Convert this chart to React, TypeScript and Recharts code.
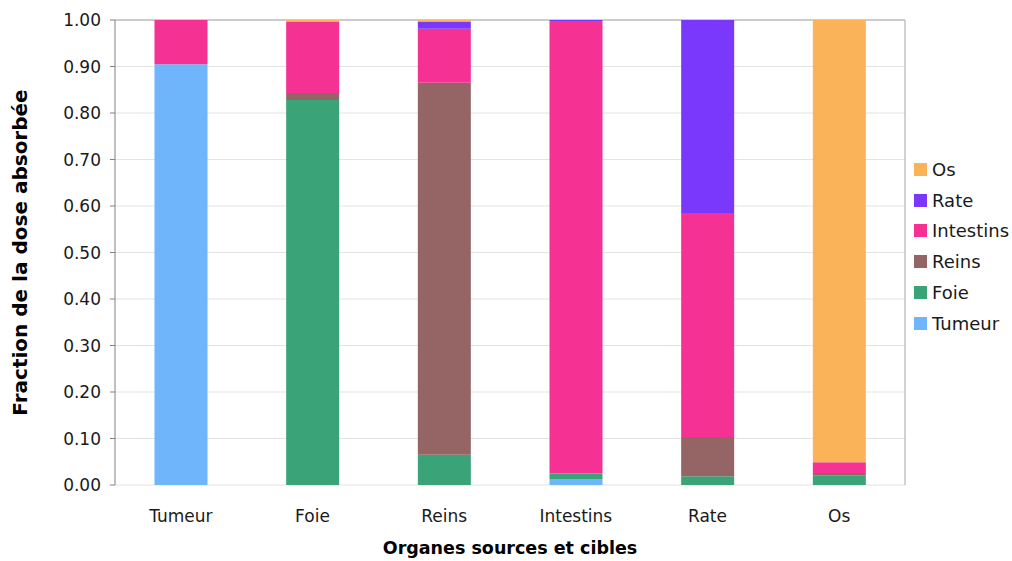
import React from 'react';
import { BarChart, Bar, XAxis, YAxis, CartesianGrid } from 'recharts';

// organes (catégories) et fractions de dose
const categories = ['Tumeur', 'Foie', 'Reins', 'Intestins', 'Rate', 'Os'];
const tumeur = [0.905, 0, 0, 0.012, 0, 0];
const foie = [0, 0.828, 0.065, 0.013, 0.019, 0.021];
const reins = [0, 0.015, 0.8, 0, 0.084, 0.005];
const intestins = [0.095, 0.154, 0.116, 0.973, 0.482, 0.023];
const rate = [0, 0, 0.016, 0.002, 0.415, 0];
const os = [0, 0.003, 0.003, 0, 0, 0.951];
const yTicks = [0, 0.1, 0.2, 0.3, 0.4, 0.5, 0.6, 0.7, 0.8, 0.9, 1];

const series = [
  { key: 'Tumeur', values: tumeur, color: '#6FB5FB' },
  { key: 'Foie', values: foie, color: '#3BA378' },
  { key: 'Reins', values: reins, color: '#956566' },
  { key: 'Intestins', values: intestins, color: '#F53294' },
  { key: 'Rate', values: rate, color: '#7B38FD' },
  { key: 'Os', values: os, color: '#FBB35A' },
];

const data = categories.map((name, i) => {
  const row: Record<string, string | number> = { name };
  series.forEach(s => { row[s.key] = s.values[i]; });
  return row;
});

const FONT = '"DejaVu Sans", Verdana, sans-serif';
const tickStyle = { fill: '#1a1a1a', fontSize: 17, fontFamily: FONT };

export default function App() {
  return (
    <div style={{ position: 'relative', width: 1012, height: 561, background: '#fff' }}>
      <style>{'body { margin: 0; }'}</style>
      <BarChart
        width={1012}
        height={561}
        data={data}
        margin={{ top: 20, right: 107, bottom: 0, left: 0 }}
        barCategoryGap="30%"
      >
        <CartesianGrid vertical={false} stroke="#e3e3e3" />
        <CartesianGrid
          stroke="#a6a6a6"
          horizontalCoordinatesGenerator={({ offset }: any) => [offset.top]}
          verticalCoordinatesGenerator={({ offset }: any) => [offset.left + offset.width]}
        />
        <XAxis
          xAxisId="edges"
          type="number"
          domain={[0, 6]}
          ticks={[0, 1, 2, 3, 4, 5, 6]}
          height={0}
          tick={false}
          tickSize={7}
          stroke="#808080"
          allowDataOverflow
        />
        <XAxis
          xAxisId="cat"
          dataKey="name"
          height={76}
          axisLine={false}
          tickLine={false}
          tickSize={6}
          tickMargin={19}
          tick={tickStyle}
          label={({ viewBox }: any) => (
            <text
              x={viewBox.x + viewBox.width / 2}
              y={548}
              textAnchor="middle"
              dominantBaseline="central"
              fontFamily={FONT}
              fontWeight="bold"
              fontSize={17.5}
              fill="#000"
            >
              Organes sources et cibles
            </text>
          )}
        />
        <YAxis
          width={115}
          domain={[0, 1]}
          ticks={yTicks}
          tickFormatter={(v: number) => v.toFixed(2)}
          tick={tickStyle}
          tickSize={5}
          tickMargin={9}
          stroke="#808080"
          interval={0}
          label={({ viewBox }: any) => {
            const cy = viewBox.y + viewBox.height / 2;
            return (
              <text
                x={20}
                y={cy}
                transform={`rotate(-90, 20, ${cy})`}
                textAnchor="middle"
                dominantBaseline="central"
                fontFamily={FONT}
                fontWeight="bold"
                fontSize={20}
                fill="#000"
              >
                Fraction de la dose absorbée
              </text>
            );
          }}
        />
        {series.map(s => (
          <Bar
            key={s.key}
            xAxisId="cat"
            dataKey={s.key}
            stackId="a"
            fill={s.color}
            isAnimationActive={false}
          />
        ))}
      </BarChart>

      {/* Légende, ordre inversé comme dans l'original */}
      <div style={{ position: 'absolute', left: 914, top: 154, fontFamily: FONT, fontSize: 18, color: '#1a1a1a' }}>
        {[...series].reverse().map(s => (
          <div key={s.key} style={{ display: 'flex', alignItems: 'center', height: 30.8 }}>
            <span style={{ width: 13, height: 13, background: s.color, marginRight: 5, display: 'inline-block' }} />
            <span>{s.key}</span>
          </div>
        ))}
      </div>
    </div>
  );
}
